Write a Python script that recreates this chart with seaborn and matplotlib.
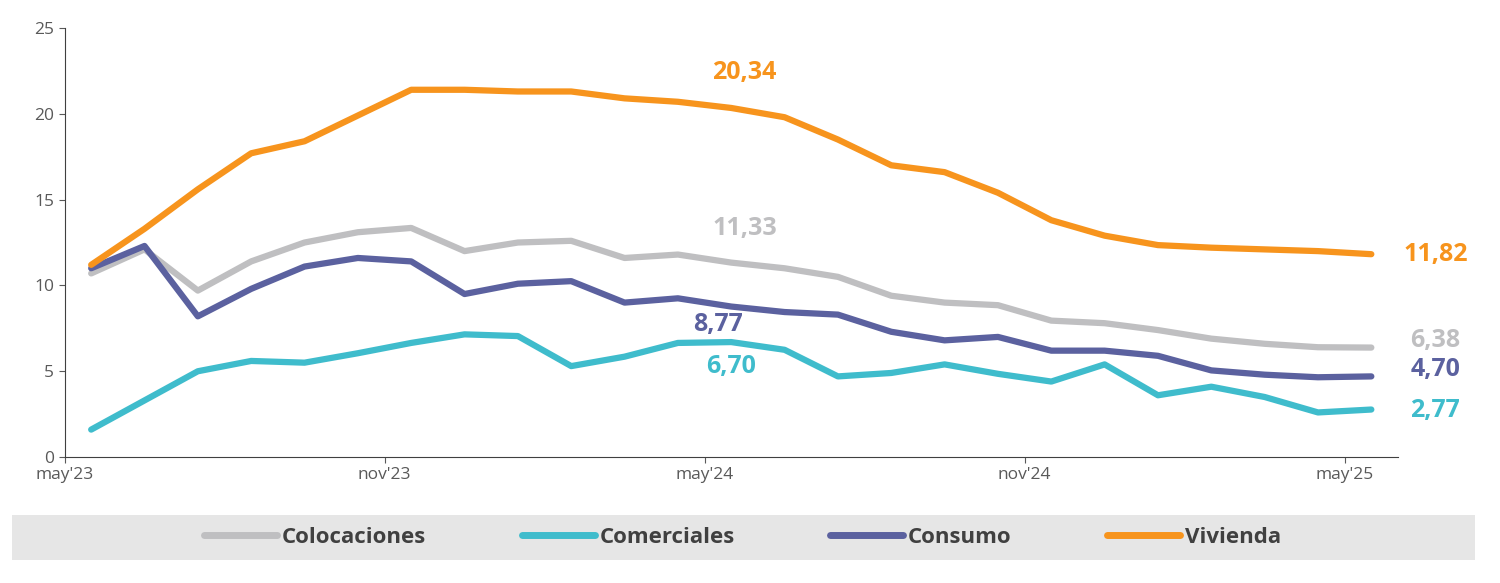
import numpy as np
import pandas as pd
import matplotlib
matplotlib.use("Agg")
import matplotlib.pyplot as plt
import seaborn as sns

# meses may'23 .. may'25
meses = pd.date_range("2023-05-01", "2025-05-01", freq="MS")
colocaciones = [10.7, 12.1, 9.7, 11.4, 12.5, 13.1, 13.35, 12.0, 12.5, 12.6, 11.6, 11.8, 11.33,
                11.0, 10.5, 9.4, 9.0, 8.85, 7.95, 7.8, 7.4, 6.9, 6.6, 6.4, 6.38]
comerciales = [1.6, 3.3, 5.0, 5.6, 5.5, 6.05, 6.65, 7.15, 7.05, 5.3, 5.85, 6.65, 6.70,
               6.25, 4.7, 4.9, 5.4, 4.85, 4.4, 5.4, 3.6, 4.1, 3.5, 2.6, 2.77]
consumo = [11.0, 12.3, 8.2, 9.8, 11.1, 11.6, 11.4, 9.5, 10.1, 10.25, 9.0, 9.25, 8.77,
           8.45, 8.3, 7.3, 6.8, 7.0, 6.2, 6.2, 5.9, 5.05, 4.8, 4.65, 4.70]
vivienda = [11.2, 13.3, 15.6, 17.7, 18.4, 19.9, 21.4, 21.4, 21.3, 21.3, 20.9, 20.7, 20.34,
            19.8, 18.5, 17.0, 16.6, 15.4, 13.8, 12.9, 12.35, 12.2, 12.1, 12.0, 11.82]
tick_labels = ["may'23", "nov'23", "may'24", "nov'24", "may'25"]

series = {"Colocaciones": colocaciones, "Comerciales": comerciales,
          "Consumo": consumo, "Vivienda": vivienda}
colores = {"Colocaciones": "#BFBFC1", "Comerciales": "#3FBCCC",
           "Consumo": "#5B619F", "Vivienda": "#F7941D"}

df = pd.DataFrame(series)
df["pos"] = np.arange(len(meses)) + 0.5
largo = df.melt(id_vars="pos", var_name="serie", value_name="valor")

sns.set_style("white")
plt.rcParams["font.family"] = ["Open Sans", "DejaVu Sans"]

fig = plt.figure(figsize=(15, 5.83), dpi=100)
ax = fig.add_axes([0.043, 0.216, 0.889, 0.736])
sns.lineplot(data=largo, x="pos", y="valor", hue="serie", palette=colores,
             linewidth=4.5, ax=ax, legend=False)

ax.set_xlim(0, 25)
ax.set_ylim(0, 25)
ax.set_xticks(np.arange(0, 25, 6))
ax.set_xticklabels(tick_labels)
ax.set_yticks(range(0, 26, 5))
ax.tick_params(colors="#595959", labelsize=12.5, length=4, direction="out")
ax.tick_params(axis="x", bottom=True)
ax.tick_params(axis="y", left=True)
for s in ["top", "right"]:
    ax.spines[s].set_visible(False)
for s in ["left", "bottom"]:
    ax.spines[s].set_color("#404040")
ax.set_xlabel("")
ax.set_ylabel("")

# etiquetas de valores
def fmt(v):
    return f"{v:.2f}".replace(".", ",")

i = 12
ax.text(12.75, 22.4, fmt(vivienda[i]), color=colores["Vivienda"], fontsize=18, fontweight="bold", ha="center", va="center")
ax.text(12.75, 13.3, fmt(colocaciones[i]), color=colores["Colocaciones"], fontsize=18, fontweight="bold", ha="center", va="center")
ax.text(12.25, 7.7, fmt(consumo[i]), color=colores["Consumo"], fontsize=18, fontweight="bold", ha="center", va="center")
ax.text(12.5, 5.25, fmt(comerciales[i]), color=colores["Comerciales"], fontsize=18, fontweight="bold", ha="center", va="center")
for nombre, yl in [("Vivienda", 11.8), ("Colocaciones", 6.8), ("Consumo", 5.1), ("Comerciales", 2.7)]:
    ax.text(25.7, yl, fmt(series[nombre][-1]), color=colores[nombre], fontsize=18,
            fontweight="bold", ha="center", va="center", clip_on=False)

# recuadro gris de la leyenda
fig.patches.append(plt.Rectangle((12 / 1500, 23 / 583), 1463 / 1500, 45 / 583,
                                 transform=fig.transFigure, facecolor="#E6E6E6",
                                 edgecolor="none", zorder=0))
handles = [plt.Line2D([], [], color=colores[n], linewidth=5) for n in series]
leg = fig.legend(handles, list(series), loc="center", bbox_to_anchor=(0.495, 0.078),
                 ncol=4, frameon=False, handlelength=3.3,
                 columnspacing=4.3, handletextpad=0.2,
                 prop={"size": 16, "weight": "bold"})
for t in leg.get_texts():
    t.set_color("#404040")

fig.savefig("out.png", dpi=100)
